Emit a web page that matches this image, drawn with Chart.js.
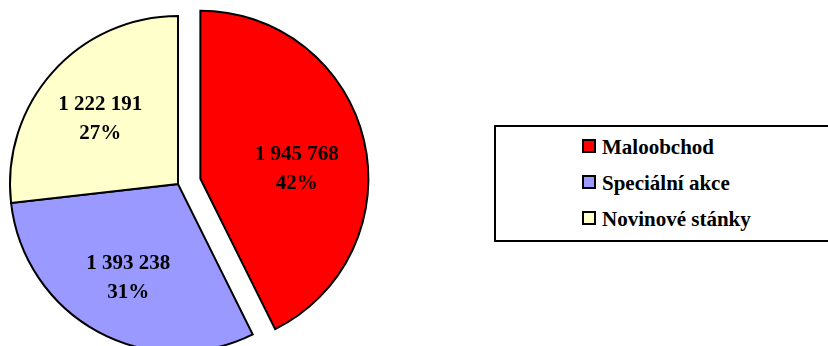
<!DOCTYPE html>
<html>
<head>
<meta charset="utf-8">
<script src="https://cdn.jsdelivr.net/npm/chart.js@4.4.1/dist/chart.umd.min.js"></script>
<style>
  html, body { margin: 0; padding: 0; background: #fff; overflow: hidden; }
  body { width: 828px; height: 346px; position: relative; }
  #pieWrap { position: absolute; left: 0; top: 0; width: 400px; height: 368px; }
  #legend {
    position: absolute; left: 494px; top: 125px; width: 360px; height: 117px;
    border: 2px solid #000; box-sizing: border-box;
  }
  .item {
    position: absolute; left: 86px; height: 21px; line-height: 21px;
    font: bold 21px "Liberation Serif", "Times New Roman", serif; color: #000;
    white-space: nowrap;
  }
  .swatch {
    position: absolute; left: 0; top: 4px; width: 10px; height: 10px;
    border: 2px solid #000;
  }
  .item span { position: absolute; left: 20px; top: 0; }
</style>
</head>
<body>
<div id="pieWrap"><canvas id="pieChart"></canvas></div>
<div id="legend"></div>
<script>
// Data
const categories = ["Maloobchod", "Speciální akce", "Novinové stánky"];
const amounts = [1945768, 1393238, 1222191];
const shares = [42, 31, 27];
const sliceColors = ["#FF0000", "#9999FF", "#FFFFCC"];

// Style
const explodeIndex = 0;
const explodeDist = 23;

// Legend (HTML)
const legend = document.getElementById("legend");
const rowTops = [8, 44, 80];
categories.forEach((name, i) => {
    const row = document.createElement("div");
    row.className = "item";
    row.style.top = rowTops[i] + "px";
    const sw = document.createElement("div");
    sw.className = "swatch";
    sw.style.background = sliceColors[i];
    const txt = document.createElement("span");
    txt.textContent = name;
    row.appendChild(sw);
    row.appendChild(txt);
    legend.appendChild(row);
});

function formatNumber(n) {
    return String(n).replace(/\B(?=(\d{3})+(?!\d))/g, " ");
}

// move the exploded slice out along its middle angle
const explodePlugin = {
    id: "explode",
    afterDatasetUpdate(chart, args) {
        const arc = args.meta.data[explodeIndex];
        if (!arc) return;
        const mid = (arc.startAngle + arc.endAngle) / 2;
        arc.x += Math.cos(mid) * explodeDist;
        arc.y += Math.sin(mid) * explodeDist;
    }
};

// two line labels inside slices
const sliceLabels = {
    id: "sliceLabels",
    afterDatasetsDraw(chart, args, opts) {
        const ctx = chart.ctx;
        const meta = chart.getDatasetMeta(0);
        ctx.save();
        ctx.font = 'bold 21px "Liberation Serif", "Times New Roman", serif';
        ctx.fillStyle = "#000";
        ctx.textAlign = "center";
        ctx.textBaseline = "alphabetic";
        meta.data.forEach((arc, i) => {
            const mid = (arc.startAngle + arc.endAngle) / 2;
            const r = arc.outerRadius * 0.62;
            const nudge = (opts.nudge && opts.nudge[i]) || [0, 0];
            const x = arc.x + Math.cos(mid) * r + nudge[0];
            const y = arc.y + Math.sin(mid) * r + nudge[1];
            ctx.fillText(formatNumber(amounts[i]), x, y - 8);
            ctx.fillText(shares[i] + "%", x, y + 21);
        });
        ctx.restore();
    }
};

new Chart(document.getElementById("pieChart"), {
    type: "pie",
    data: {
        labels: categories,
        datasets: [{
            data: amounts,
            backgroundColor: sliceColors,
            borderColor: "#000",
            borderWidth: 2,
            borderJoinStyle: "miter",
            clip: false
        }]
    },
    options: {
        responsive: true,
        maintainAspectRatio: false,
        animation: false,
        events: [],
        radius: 168,
        layout: { padding: { left: 0, top: 0, right: 44, bottom: 0 } },
        plugins: {
            legend: { display: false },
            tooltip: { enabled: false },
            sliceLabels: { nudge: [[-5, 13], [0, 2], [0, 3]] }
        }
    },
    plugins: [explodePlugin, sliceLabels]
});
</script>
</body>
</html>
